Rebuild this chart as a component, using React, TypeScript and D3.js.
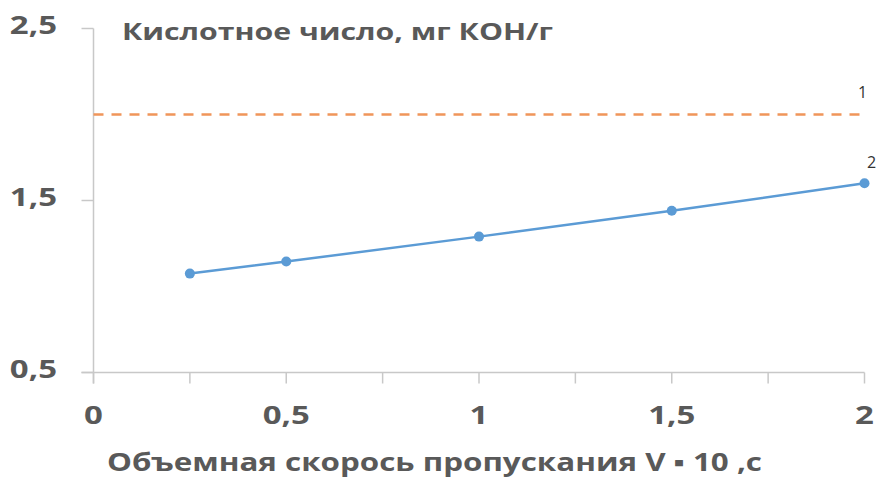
import React from "react";
import * as d3 from "d3";

const xValues = [0.25, 0.5, 1, 1.5, 2];
const series2 = [1.075, 1.145, 1.29, 1.44, 1.6];
const series1Level = 2.0;
const xTickValues = [0, 0.25, 0.5, 0.75, 1, 1.25, 1.5, 1.75, 2];
const xLabelValues = [0, 0.5, 1, 1.5, 2];
const yTickValues = [0.5, 1.5, 2.5];
const yTitle = "Кислотное число, мг КОН/г";
const xTitle = "Объемная скорось пропускания V ▪ 10 ,с";

const W = 888;
const H = 499;
const fmt = (v: number) => String(v).replace(".", ",");

export default function App() {
  const x = d3.scaleLinear().domain([0, 2]).range([93.5, 864.5]);
  const y = d3.scaleLinear().domain([0.5, 2.5]).range([372.5, 28.5]);
  const line = d3
    .line<number>()
    .x((_, i) => x(xValues[i]))
    .y((d) => y(d));
  const axisColor = "#c8c8c8";
  const textColor = "#595959";
  const font = "'Open Sans', 'Liberation Sans', sans-serif";
  const sx = 1.32;
  return (
    <svg
      width={W}
      height={H}
      style={{ position: "absolute", left: 0, top: 0, background: "#fff" }}
      fontFamily={font}
    >
      {/* y axis */}
      <line x1={x(0)} x2={x(0)} y1={y(2.5)} y2={y(0.5) + 11} stroke={axisColor} strokeWidth={1.5} />
      {yTickValues.map((v) => (
        <g key={"yt" + v}>
          <line x1={x(0) - 12} x2={x(0)} y1={y(v)} y2={y(v)} stroke={axisColor} strokeWidth={1.5} />
          <g transform={`translate(57,${y(v) + 5}) scale(${sx},1)`}>
            <text textAnchor="end" fontSize={25} fontWeight="bold" fill={textColor}>
              {fmt(v)}
            </text>
          </g>
        </g>
      ))}
      {/* x axis */}
      <line x1={x(0) - 12} x2={x(2)} y1={y(0.5)} y2={y(0.5)} stroke={axisColor} strokeWidth={1.5} />
      {xTickValues.map((v) => (
        <line key={"xt" + v} x1={x(v)} x2={x(v)} y1={y(0.5)} y2={y(0.5) + 11} stroke={axisColor} strokeWidth={1.5} />
      ))}
      {xLabelValues.map((v) => (
        <g key={"xl" + v} transform={`translate(${x(v)},424) scale(${sx},1)`}>
          <text textAnchor="middle" fontSize={25} fontWeight="bold" fill={textColor}>
            {fmt(v)}
          </text>
        </g>
      ))}
      {/* series 1 dashed */}
      <line
        x1={x(0)}
        x2={x(2)}
        y1={y(series1Level)}
        y2={y(series1Level)}
        stroke="#f0955a"
        strokeWidth={2.5}
        strokeDasharray="10 8"
      />
      {/* series 2 */}
      <path d={line(series2) || ""} fill="none" stroke="#5b9bd5" strokeWidth={2.5} />
      {series2.map((v, i) => (
        <circle key={"p" + i} cx={x(xValues[i])} cy={y(v)} r={5} fill="#5b9bd5" />
      ))}
      {/* labels */}
      <text x={x(2) - 2} y={y(series1Level) - 17} textAnchor="middle" fontSize={16} fill="#333">
        1
      </text>
      <text x={x(2) + 7} y={y(series2[4]) - 15} textAnchor="middle" fontSize={16} fill="#333">
        2
      </text>
      <text
        x={122}
        y={40}
        fontSize={23}
        fontWeight="bold"
        fill={textColor}
        textLength={431}
        lengthAdjust="spacingAndGlyphs"
      >
        {yTitle}
      </text>
      <text
        x={107}
        y={471}
        fontSize={25}
        fontWeight="bold"
        fill={textColor}
        textLength={655}
        lengthAdjust="spacingAndGlyphs"
      >
        {xTitle}
      </text>
    </svg>
  );
}
